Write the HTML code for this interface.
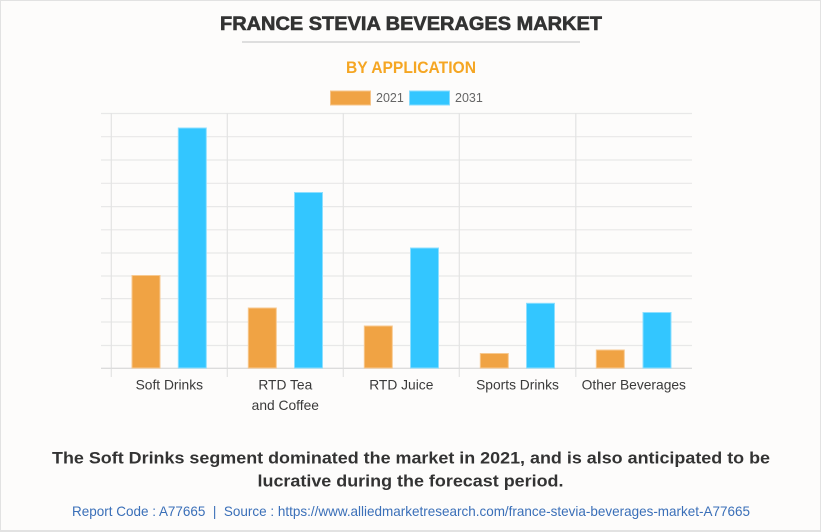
<!DOCTYPE html>
<html>
<head>
<meta charset="utf-8">
<style>
html,body{margin:0;padding:0;background:#fdfcfb;}
svg{display:block;}
</style>
</head>
<body>
<svg width="821" height="532" viewBox="0 0 821 532" xmlns="http://www.w3.org/2000/svg">
  <rect x="0" y="0" width="821" height="532" fill="#fdfcfb"/>
  <rect x="0.5" y="0.5" width="820" height="530" fill="none" stroke="#e2e2e2" stroke-width="1"/>
  <line x1="0" y1="531" x2="821" y2="531" stroke="#e2e2e2" stroke-width="2"/>

  <!-- Title -->
  <text x="411" y="30" font-family="Liberation Sans, Arial, sans-serif" font-weight="bold" font-size="19" fill="#333" stroke="#333" stroke-width="0.6" text-anchor="middle" textLength="382" lengthAdjust="spacingAndGlyphs">FRANCE STEVIA BEVERAGES MARKET</text>
  <line x1="242" y1="42" x2="580" y2="42" stroke="#dedede" stroke-width="2"/>

  <!-- Subtitle -->
  <text x="411" y="73" font-family="Liberation Sans, Arial, sans-serif" font-weight="bold" font-size="16.5" fill="#f5a623" text-anchor="middle" textLength="130" lengthAdjust="spacingAndGlyphs">BY APPLICATION</text>

  <!-- Legend -->
  <rect x="330.5" y="91" width="40" height="14" fill="#f0a344" stroke="#f6c489" stroke-width="1"/>
  <text x="376" y="102" font-family="Liberation Sans, Arial, sans-serif" font-size="12.5" fill="#666">2021</text>
  <rect x="409.5" y="91" width="40" height="14" fill="#33c6ff" stroke="#85dcff" stroke-width="1"/>
  <text x="455" y="102" font-family="Liberation Sans, Arial, sans-serif" font-size="12.5" fill="#666">2031</text>

  <!-- Grid horizontal -->
  <g stroke="#e8e8e8" stroke-width="1.2">
    <line x1="101" y1="113.5" x2="692" y2="113.5"/>
    <line x1="101" y1="136.7" x2="692" y2="136.7"/>
    <line x1="101" y1="160" x2="692" y2="160"/>
    <line x1="101" y1="183.3" x2="692" y2="183.3"/>
    <line x1="101" y1="206.6" x2="692" y2="206.6"/>
    <line x1="101" y1="229.8" x2="692" y2="229.8"/>
    <line x1="101" y1="253" x2="692" y2="253"/>
    <line x1="101" y1="276" x2="692" y2="276"/>
    <line x1="101" y1="298.6" x2="692" y2="298.6"/>
    <line x1="101" y1="322" x2="692" y2="322"/>
    <line x1="101" y1="345.5" x2="692" y2="345.5"/>
  </g>
  <!-- Grid vertical -->
  <g stroke="#e3e3e3" stroke-width="1.2">
    <line x1="111.3" y1="113" x2="111.3" y2="377"/>
    <line x1="227.3" y1="113" x2="227.3" y2="377"/>
    <line x1="343.3" y1="113" x2="343.3" y2="377"/>
    <line x1="459.3" y1="113" x2="459.3" y2="377"/>
    <line x1="575.8" y1="113" x2="575.8" y2="377"/>
  </g>
  <line x1="101" y1="368.3" x2="692" y2="368.3" stroke="#dcdcdc" stroke-width="1.4"/>

  <!-- Bars 2021 -->
  <g fill="#f0a344" stroke="#f7c990" stroke-width="1">
    <rect x="132" y="275.5" width="28" height="92.5"/>
    <rect x="248.3" y="308" width="28" height="60"/>
    <rect x="364.3" y="326" width="28" height="42"/>
    <rect x="480.3" y="353.5" width="28" height="14.5"/>
    <rect x="596.3" y="350" width="28" height="18"/>
  </g>
  <!-- Bars 2031 -->
  <g fill="#33c6ff" stroke="#8ddfff" stroke-width="1">
    <rect x="178.3" y="128" width="28" height="240"/>
    <rect x="294.5" y="192.5" width="28" height="175.5"/>
    <rect x="410.5" y="248" width="28" height="120"/>
    <rect x="526.5" y="303.3" width="28" height="64.7"/>
    <rect x="643" y="312.5" width="28" height="55.5"/>
  </g>

  <!-- X labels -->
  <g font-family="Liberation Sans, Arial, sans-serif" font-size="13.8" fill="#3a3a3a" text-anchor="middle">
    <text x="169.3" y="389.3">Soft Drinks</text>
    <text x="285.3" y="389.3">RTD Tea</text>
    <text x="285.3" y="410">and Coffee</text>
    <text x="401.3" y="389.3">RTD Juice</text>
    <text x="517.5" y="389.3">Sports Drinks</text>
    <text x="633.8" y="389.3">Other Beverages</text>
  </g>

  <!-- Bottom statement -->
  <text x="411" y="463.3" font-family="Liberation Sans, Arial, sans-serif" font-weight="bold" font-size="17" fill="#333" text-anchor="middle" textLength="718" lengthAdjust="spacingAndGlyphs">The Soft Drinks segment dominated the market in 2021, and is also anticipated to be</text>
  <text x="410.5" y="486.7" font-family="Liberation Sans, Arial, sans-serif" font-weight="bold" font-size="17" fill="#333" text-anchor="middle" textLength="306" lengthAdjust="spacingAndGlyphs">lucrative during the forecast period.</text>

  <!-- Source -->
  <text x="411" y="516" font-family="Liberation Sans, Arial, sans-serif" font-size="13.8" fill="#3a6fb8" text-anchor="middle" textLength="678" lengthAdjust="spacingAndGlyphs">Report Code : A77665&#160; |&#160; Source : https://www.alliedmarketresearch.com/france-stevia-beverages-market-A77665</text>
</svg>
</body>
</html>
